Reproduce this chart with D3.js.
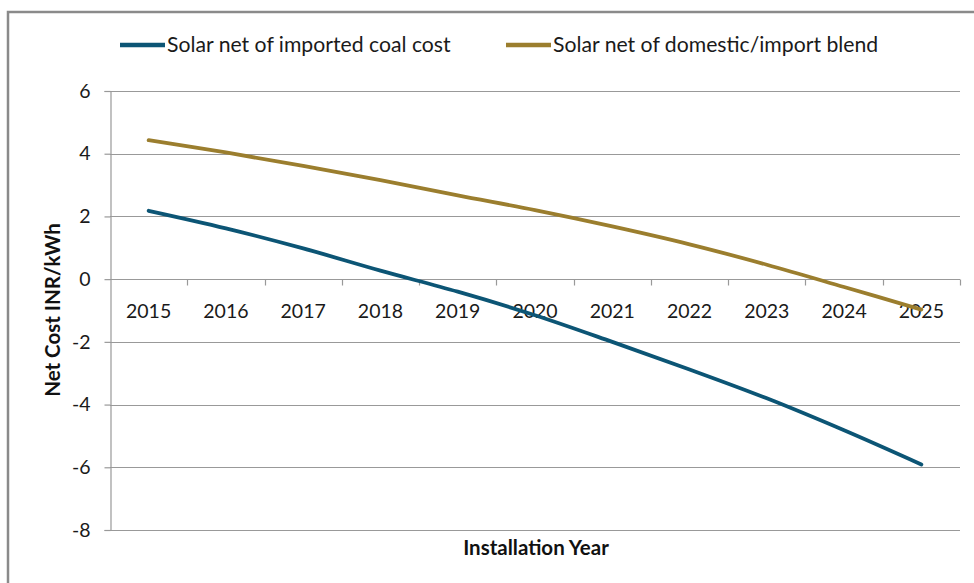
<!DOCTYPE html>
<html>
<head>
<meta charset="utf-8">
<script src="https://cdn.jsdelivr.net/npm/d3@7"></script>
<style>
  html, body { margin: 0; padding: 0; background: #fff; }
  svg { display: block; font-family: Lato, "Open Sans", sans-serif; }
</style>
</head>
<body>
<svg id="chart" width="974" height="583"></svg>
<script>
// Installation years and the two net-cost series (INR/kWh)
const years = ["2015", "2016", "2017", "2018", "2019", "2020", "2021", "2022", "2023", "2024", "2025"];
const importedCoal = [2.18, 1.62, 0.98, 0.27, -0.40, -1.15, -2.00, -2.88, -3.80, -4.82, -5.91];
const blendCoal = [4.43, 4.04, 3.61, 3.16, 2.67, 2.20, 1.68, 1.11, 0.46, -0.25, -0.97];
const yTicks = [6, 4, 2, 0, -2, -4, -6, -8];
const seriesNames = ["Solar net of imported coal cost", "Solar net of domestic/import blend"];
const seriesColors = ["#0c5575", "#9b7e2e"];

const svg = d3.select("#chart");

// outer chart frame
svg.append("path")
  .attr("d", "M8,583 V12 H974")
  .attr("fill", "none")
  .attr("stroke", "#8a8a8a")
  .attr("stroke-width", 2.5);

const plot = { left: 110, right: 960, top: 91, bottom: 530 };

const x = d3.scaleBand().domain(years).range([plot.left, plot.right]).padding(0);
const y = d3.scaleLinear().domain([-8, 6]).range([plot.bottom, plot.top]);

const gridColor = "#999999";
const textColor = "#1a1a1a";

// horizontal gridlines
svg.append("g")
  .selectAll("line")
  .data(yTicks)
  .join("line")
  .attr("x1", plot.left)
  .attr("x2", plot.right)
  .attr("y1", d => Math.round(y(d)) + 0.5)
  .attr("y2", d => Math.round(y(d)) + 0.5)
  .attr("stroke", gridColor)
  .attr("stroke-width", 1.2);

// y axis (plain hyphen for negative numbers)
const yAxis = d3.axisLeft(y)
  .tickValues(yTicks)
  .tickSize(6)
  .tickPadding(14)
  .tickFormat(d => String(d));
const gy = svg.append("g")
  .attr("transform", `translate(${plot.left + 0.5},0)`)
  .call(yAxis);
gy.select(".domain").attr("stroke", gridColor).attr("stroke-width", 1.2);
gy.selectAll(".tick line").attr("stroke", gridColor).attr("stroke-width", 1.2);
gy.selectAll(".tick text")
  .attr("font-size", 19.5)
  .attr("fill", textColor)
  .attr("font-family", "Lato, 'Open Sans', sans-serif");

// category axis along zero, ticks between categories
const zeroY = Math.round(y(0)) + 0.5;
const boundaries = years.map(d => x(d)).concat([plot.right]).slice(1);
svg.append("g")
  .selectAll("line")
  .data(boundaries)
  .join("line")
  .attr("x1", d => Math.round(d) + 0.5)
  .attr("x2", d => Math.round(d) + 0.5)
  .attr("y1", zeroY)
  .attr("y2", zeroY + 6)
  .attr("stroke", gridColor)
  .attr("stroke-width", 1.2);

svg.append("g")
  .selectAll("text")
  .data(years)
  .join("text")
  .attr("x", d => x(d) + x.bandwidth() / 2)
  .attr("y", zeroY + 38)
  .attr("text-anchor", "middle")
  .attr("font-size", 19.5)
  .attr("fill", textColor)
  .text(d => d);

// series lines
const line = d3.line()
  .x((d, i) => x(years[i]) + x.bandwidth() / 2)
  .y(d => y(d))
  .curve(d3.curveCatmullRom.alpha(0.5));

[importedCoal, blendCoal].forEach((vals, k) => {
  svg.append("path")
    .datum(vals)
    .attr("d", line)
    .attr("fill", "none")
    .attr("stroke", seriesColors[k])
    .attr("stroke-width", 3.8)
    .attr("stroke-linecap", "round")
    .attr("stroke-linejoin", "round");
});

// legend
const legendItems = [
  { x: 120, name: seriesNames[0], color: seriesColors[0] },
  { x: 506, name: seriesNames[1], color: seriesColors[1] }
];
const legend = svg.append("g");
legendItems.forEach(it => {
  legend.append("line")
    .attr("x1", it.x).attr("x2", it.x + 45)
    .attr("y1", 45).attr("y2", 45)
    .attr("stroke", it.color)
    .attr("stroke-width", 4.5);
  legend.append("text")
    .attr("x", it.x + 47)
    .attr("y", 52)
    .attr("font-size", 21.2)
    .attr("fill", textColor)
    .text(it.name);
});

// axis titles
svg.append("text")
  .attr("x", 536)
  .attr("y", 555)
  .attr("text-anchor", "middle")
  .attr("font-size", 20.5)
  .attr("font-weight", "bold")
  .attr("fill", "#111")
  .text("Installation Year");

svg.append("text")
  .attr("transform", "translate(60,310) rotate(-90)")
  .attr("text-anchor", "middle")
  .attr("font-size", 20.5)
  .attr("font-weight", "bold")
  .attr("fill", "#111")
  .text("Net Cost INR/kWh");
</script>
</body>
</html>
